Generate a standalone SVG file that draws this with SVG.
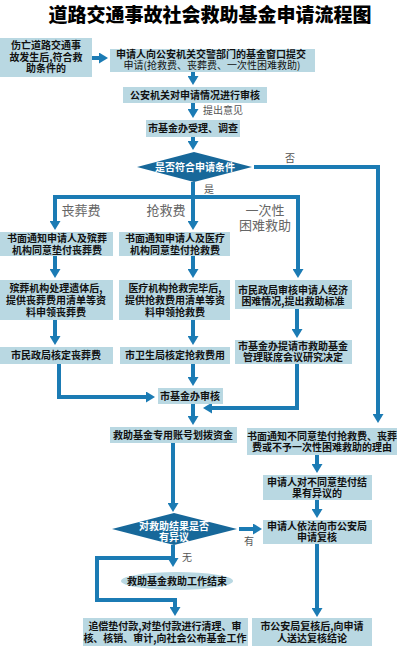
<svg xmlns="http://www.w3.org/2000/svg" width="400" height="646" viewBox="0 0 400 646">
<style>
.bx{fill:#b9d8e2}
.dm{fill:#17689a}
.t{font-family:"Noto Sans CJK SC",sans-serif;font-size:10px;font-weight:bold;text-anchor:middle;fill:#111}
.tw{font-family:"Noto Sans CJK SC",sans-serif;font-size:10px;font-weight:bold;text-anchor:middle;fill:#fff}
.lb{font-family:"Noto Sans CJK SC",sans-serif;font-size:10px;fill:#555}
.br{font-family:"Noto Sans CJK SC",sans-serif;font-size:13px;fill:#666;text-anchor:middle}
.c{fill:none;stroke:#1b7bb4;stroke-width:4;stroke-linejoin:miter}
.a{marker-end:url(#ah)}
</style>
<defs>
<marker id="ah" markerUnits="userSpaceOnUse" markerWidth="10" markerHeight="11" refX="1" refY="5.5" orient="auto"><path d="M0,0 L9,5.5 L0,11 z" fill="#1b7bb4"/></marker>
</defs>
<rect width="400" height="646" fill="#fff"/>
<text x="210" y="22" style="font-family:'Noto Sans CJK SC',sans-serif;font-size:19px;font-weight:900;text-anchor:middle;fill:#000">道路交通事故社会救助基金申请流程图</text>
<g id="connectors">
<path class="c a" d="M92,58 H100"/>
<path class="c a" d="M193,72 V77"/>
<path class="c a" d="M193,103 V110"/>
<path class="c a" d="M193,137 V142"/>
<path class="c a" d="M254,167 H378 V415"/>
<path class="c" d="M193,182 V197 M53,197 H300"/>
<path class="c a" d="M55,197 V222"/>
<path class="c a" d="M193,197 V222"/>
<path class="c a" d="M298,197 V270"/>
<path class="c a" d="M55,256 V270"/>
<path class="c a" d="M193,256 V270"/>
<path class="c a" d="M55,320 V337"/>
<path class="c a" d="M193,320 V337"/>
<path class="c a" d="M297,309 V330"/>
<path class="c a" d="M59,364 V397 H147"/>
<path class="c a" d="M193,364 V378"/>
<path class="c a" d="M297,363 V408 H211"/>
<path class="c a" d="M193,404 V417"/>
<path class="c a" d="M173,443 V504"/>
<path class="c a" d="M317,455 V465"/>
<path class="c a" d="M317,500 V510"/>
<path class="c a" d="M239,529 H254"/>
<path class="c a" d="M173,545 V559"/>
<path class="c a" d="M173,558 H97 V600 H175 V608"/>
<path class="c a" d="M317,544 V609"/>
<text class="lb" x="203" y="114">提出意见</text>
<text class="lb" x="285" y="162">否</text>
<text class="lb" x="204" y="193">是</text>
<text class="lb" x="244" y="545">有</text>
<text class="lb" x="182" y="561">无</text>
<text class="br" x="81" y="215">丧葬费</text>
<text class="br" x="166" y="215">抢救费</text>
<text class="br" x="265" y="215">一次性</text>
<text class="br" x="265" y="230">困难救助</text>
</g>
<g id="n1"><rect class="bx" x="0" y="38" width="92" height="39"/><text class="t" x="46" y="49">伤亡道路交通事</text><text class="t" x="46" y="61">故发生后,符合救</text><text class="t" x="46" y="72">助条件的</text></g>
<g id="n2"><rect class="bx" x="110" y="49" width="205" height="23"/><text class="t" x="211" y="58">申请人向公安机关交警部门的基金窗口提交</text><text class="t" x="212" y="69" style="font-weight:normal">申请(抢救费、丧葬费、一次性困难救助)</text></g>
<g id="n3"><rect class="bx" x="123" y="87" width="144" height="16"/><text class="t" x="195" y="99">公安机关对申请情况进行审核</text></g>
<g id="n4"><rect class="bx" x="146" y="120" width="94" height="17"/><text class="t" x="193" y="132">市基金办受理、调查</text></g>
<g id="d1"><polygon class="dm" points="137,167 194,152 252,167 194,182"/><text class="tw" x="195" y="171">是否符合申请条件</text></g>
<g id="n5"><rect class="bx" x="0" y="232" width="113" height="24"/><text class="t" x="57" y="242">书面通知申请人及殡葬</text><text class="t" x="57" y="254">机构同意垫付丧葬费</text></g>
<g id="n6"><rect class="bx" x="119" y="232" width="111" height="24"/><text class="t" x="175" y="242">书面通知申请人及医疗</text><text class="t" x="175" y="254">机构同意垫付抢救费</text></g>
<g id="n7"><rect class="bx" x="0" y="280" width="113" height="40"/><text class="t" x="56" y="292">殡葬机构处理遗体后,</text><text class="t" x="56" y="304">提供丧葬费用清单等资</text><text class="t" x="56" y="316">料申领丧葬费</text></g>
<g id="n8"><rect class="bx" x="119" y="280" width="111" height="40"/><text class="t" x="175" y="292">医疗机构抢救完毕后,</text><text class="t" x="175" y="304">提供抢救费用清单等资</text><text class="t" x="175" y="316">料申领抢救费</text></g>
<g id="n9"><rect class="bx" x="235" y="280" width="117" height="29"/><text class="t" x="293" y="294">市民政局审核申请人经济</text><text class="t" x="293" y="305">困难情况,提出救助标准</text></g>
<g id="n10"><rect class="bx" x="0" y="347" width="113" height="17"/><text class="t" x="56" y="359">市民政局核定丧葬费</text></g>
<g id="n11"><rect class="bx" x="120" y="347" width="110" height="17"/><text class="t" x="175" y="359">市卫生局核定抢救费用</text></g>
<g id="n12"><rect class="bx" x="235" y="340" width="117" height="24"/><text class="t" x="293" y="350">市基金办提请市救助基金</text><text class="t" x="293" y="361">管理联席会议研究决定</text></g>
<g id="n13"><rect class="bx" x="158" y="388" width="65" height="16"/><text class="t" x="190" y="400">市基金办审核</text></g>
<g id="n14"><rect class="bx" x="110" y="427" width="127" height="16"/><text class="t" x="173" y="439">救助基金专用账号划拨资金</text></g>
<g id="n15"><rect class="bx" x="247" y="428" width="150" height="27"/><text class="t" x="322" y="440">书面通知不同意垫付抢救费、丧葬</text><text class="t" x="322" y="451">费或不予一次性困难救助的理由</text></g>
<g id="n16"><rect class="bx" x="263" y="475" width="109" height="25"/><text class="t" x="317" y="486">申请人对不同意垫付结</text><text class="t" x="317" y="497">果有异议的</text></g>
<g id="n17"><rect class="bx" x="263" y="520" width="109" height="24"/><text class="t" x="317" y="530">申请人依法向市公安局</text><text class="t" x="317" y="541">申请复核</text></g>
<g id="d2"><polygon class="dm" points="112,529 174,513 237,529 174,545"/><text class="tw" x="174" y="530">对救助结果是否</text><text class="tw" x="174" y="541">有异议</text></g>
<g id="n18"><ellipse class="bx" cx="177" cy="581" rx="56" ry="9"/><text class="t" x="177" y="585">救助基金救助工作结束</text></g>
<g id="n19"><rect class="bx" x="83" y="618" width="165" height="28"/><text class="t" x="165" y="630">追偿垫付款,对垫付款进行清理、审</text><text class="t" x="165" y="642">核、核销、审计,向社会公布基金工作</text></g>
<g id="n20"><rect class="bx" x="252" y="618" width="120" height="28"/><text class="t" x="312" y="630">市公安局复核后,向申请</text><text class="t" x="312" y="642">人送达复核结论</text></g>
</svg>
